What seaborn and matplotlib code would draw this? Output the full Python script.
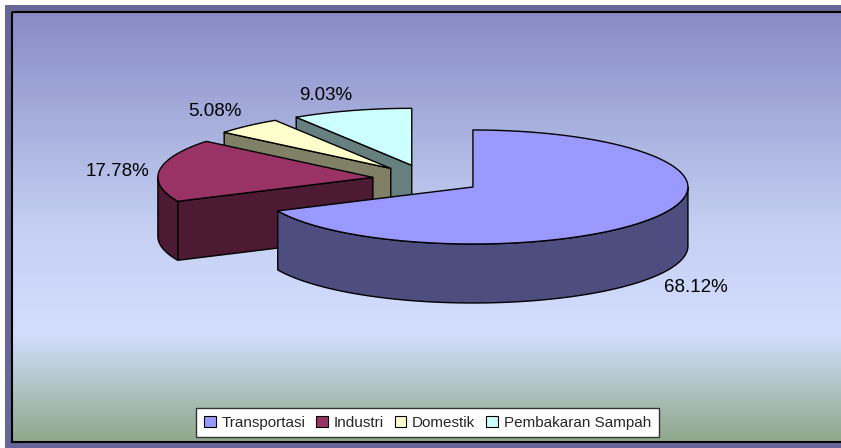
#%% import libraries
import numpy as np
import seaborn as sns
import matplotlib.pyplot as plt
from matplotlib.patches import Patch, Polygon, Rectangle

#%% data
labels = ['Transportasi', 'Industri', 'Domestik', 'Pembakaran Sampah']
values = [68.12, 17.78, 5.08, 9.03]
pct_text = ['68.12%', '17.78%', '5.08%', '9.03%']
colors = ['#9999FF', '#993366', '#FFFFCC', '#CCFFFF']

#%% layout (pixels)
W, H = 841, 448
cx, cy = 427, 179.2
rx, ry = 215, 57
depth = 59
explode = 0.2536
label_pos = [(696, 288), (118, 171), (215, 111), (326, 95)]
bg_stops = ['#878CC6', '#A6AEDC', '#C4CFF2', '#D3DEFF', '#8FA88A']

sns.set_theme(style='white')
plt.rcParams['font.family'] = ['Liberation Sans', 'DejaVu Sans']


def rim(xc, yc, a):
    # a = degrees clockwise from 12 o'clock
    t = np.radians(a)
    return np.column_stack([xc + rx * np.sin(t), yc - ry * np.cos(t)])


def side_color(c):
    return tuple(v * 0.5 for v in plt.matplotlib.colors.to_rgb(c))


#%% figure + background
fig = plt.figure(figsize=(W / 100, H / 100), dpi=100, facecolor='white')
ax = fig.add_axes([0, 0, 1, 1])
ax.set_xlim(0, W)
ax.set_ylim(H, 0)
ax.axis('off')

ax.add_patch(Rectangle((5, 5), W, H, fc='#666699', ec='none', zorder=0))
cmap = sns.blend_palette(bg_stops, as_cmap=True)
grad = np.linspace(0, 1, 256).reshape(-1, 1)
ax.imshow(grad, cmap=cmap, aspect='auto', extent=(12, W, 442, 12), zorder=1)
ax.set_xlim(0, W)
ax.set_ylim(H, 0)
ax.add_patch(Rectangle((12, 12), W, 430, fc='none', ec='black', lw=1.5, zorder=2))

#%% slices, back ones first
ends = np.cumsum(values) / np.sum(values) * 360
starts = np.concatenate([[0], ends[:-1]])
line = dict(ec='black', lw=1.0, joinstyle='round')

for i in [3, 2, 1, 0]:
    a0, a1 = starts[i], ends[i]
    mid = np.radians((a0 + a1) / 2)
    xc = cx + explode * rx * np.sin(mid)
    yc = cy - explode * ry * np.cos(mid)
    dark = side_color(colors[i])
    arc = rim(xc, yc, np.linspace(a0, a1, 200))
    down = np.array([0, depth])

    # flat cut face, only the ones turned to the viewer
    if i > 0:
        p = arc[0]
        face = [(xc, yc), p, p + down, (xc, yc + depth)]
        ax.add_patch(Polygon(face, fc=dark, zorder=3 + (3 - i), **line))

    # outer wall, only the front half of the ellipse
    lo, hi = max(a0, 90), min(a1, 270)
    if lo < hi:
        front = rim(xc, yc, np.linspace(lo, hi, 200))
        wall = np.vstack([front, (front + down)[::-1]])
        ax.add_patch(Polygon(wall, fc=dark, zorder=3 + (3 - i), **line))

    top = np.vstack([[xc, yc], arc])
    ax.add_patch(Polygon(top, fc=colors[i], zorder=3 + (3 - i), **line))

for (x, y), s in zip(label_pos, pct_text):
    ax.text(x, y, s, ha='center', va='center', fontsize=13.5, color='black', zorder=10)

#%% legend
handles = [Patch(fc=c, ec='black', lw=0.8) for c in colors]
leg = ax.legend(handles, labels, ncol=4, loc='center',
                bbox_to_anchor=(427.5 / W, 1 - 422.5 / H),
                fontsize=11, frameon=True, fancybox=False, framealpha=1,
                edgecolor='#333333', facecolor='white',
                handlelength=0.75, handleheight=0.75, handletextpad=0.4,
                columnspacing=0.7, borderpad=0.5, borderaxespad=0)
leg.get_frame().set_linewidth(1.0)
leg.set_zorder(11)

fig.savefig('out.png', dpi=100)
